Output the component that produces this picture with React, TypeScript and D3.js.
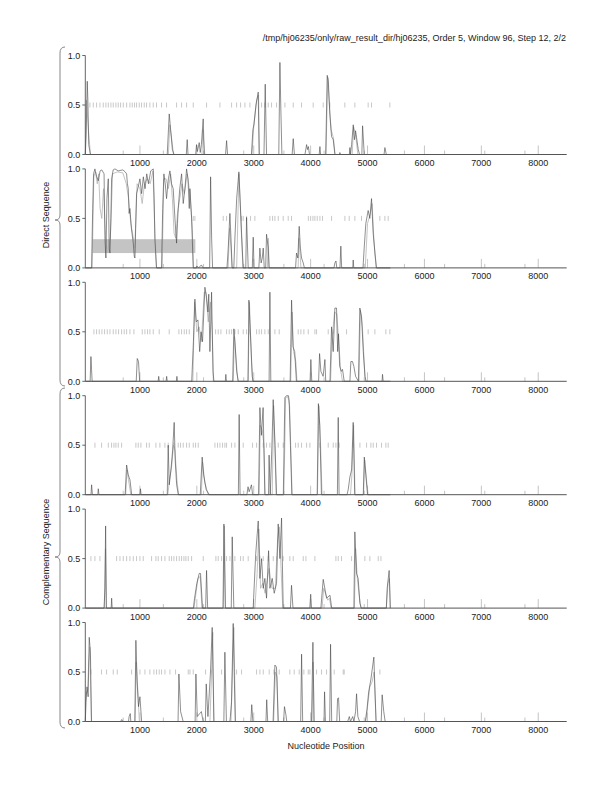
import React from "react";
import * as d3 from "d3";

const TITLE = "/tmp/hj06235/only/raw_result_dir/hj06235, Order 5, Window 96, Step 12, 2/2";
const X_LABEL = "Nucleotide Position";
const GROUP_LABELS = ["Direct Sequence", "Complementary Sequence"];
const X_DOMAIN: [number, number] = [40, 8500];
const X_TICKS = [1000, 2000, 3000, 4000, 5000, 6000, 7000, 8000];
const MINOR_TICKS = [706, 1412, 2118, 2824, 3530, 4236, 4942, 5648, 6354, 7060, 7766];
const Y_TICKS = [0, 0.5, 1];
const HIGHLIGHT = { panel: 1, x0: 165, x1: 1974, y0: 0.15, y1: 0.29 };

type P = [number, number];

const p1Dark: P[] = [[40,0],[55,0.2],[74,0.74],[85,0.55],[100,0.1],[130,0],[1480,0],[1515,0.41],[1540,0.25],[1570,0.05],[1600,0],[1815,0],[1831,0.15],[1845,0],[1980,0],[1995,0.1],[2010,0.03],[2042,0.12],[2060,0.02],[2080,0.1],[2112,0.36],[2130,0],[2505,0],[2523,0.14],[2540,0],[2960,0],[2985,0.25],[3003,0.3],[3040,0.5],[3079,0.63],[3095,0],[3180,0],[3202,0.71],[3225,0],[3440,0],[3460,0.93],[3475,0.5],[3495,0],[3675,0],[3694,0.16],[3715,0],[3900,0],[3929,0.1],[3945,0.05],[3960,0.08],[3980,0],[4150,0],[4163,0.08],[4175,0],[4265,0],[4291,0.8],[4310,0.75],[4338,0.4],[4368,0.18],[4397,0.15],[4426,0],[4505,0],[4514,0.02],[4525,0],[4680,0],[4690,0.07],[4700,0],[4720,0.1],[4749,0.3],[4770,0.15],[4790,0.24],[4837,0.05],[4860,0],[4900,0],[4913,0.29],[4942,0],[5290,0],[5305,0.07],[5330,0],[5400,0]];
const p1Light: P[] = [[40,0],[60,0.55],[95,0.25],[130,0],[1500,0],[1525,0.3],[1560,0.15],[1590,0],[2090,0],[2105,0.25],[2125,0.1],[2140,0],[2970,0],[3000,0.28],[3050,0.55],[3085,0.6],[3100,0],[4270,0],[4300,0.78],[4330,0.5],[4360,0.25],[4400,0.17],[4430,0],[4730,0],[4755,0.28],[4790,0.2],[4830,0],[5400,0]];
const p1Stops = [121,180,238,297,355,402,444,490,531,578,619,660,707,766,824,865,906,941,988,1029,1076,1117,1175,1234,1292,1380,1468,1644,1732,1820,1937,2171,2406,2611,2699,2769,2845,2933,3138,3196,3255,3313,3401,3548,3694,3840,4045,4221,4338,4601,4777,5011,5070,5392];

const p2Dark: P[] = [[40,0],[150,0],[170,0.6],[185,0.95],[209,1.0],[240,0.92],[268,0.88],[300,0.98],[330,0.99],[370,0.95],[385,0.3],[402,0.1],[420,0.7],[444,0.9],[460,0.2],[473,0.15],[490,0.5],[502,0.9],[530,0.99],[561,1.0],[620,0.98],[700,0.99],[740,0.97],[766,0.95],[780,0.85],[795,0.8],[810,0.55],[824,0.6],[850,0.4],[883,0.25],[900,0.12],[912,0.1],[925,0.4],[941,0.75],[970,0.82],[1000,0.9],[1030,0.75],[1060,0.92],[1090,0.8],[1120,0.95],[1150,0.85],[1190,0.98],[1234,1.0],[1250,0.7],[1263,0.3],[1292,0],[1380,0],[1400,0.6],[1421,0.95],[1445,0.85],[1468,0.7],[1500,0.9],[1527,0.98],[1555,0.85],[1585,0.8],[1615,0.5],[1644,0.25],[1660,0.45],[1673,0.6],[1700,0.8],[1732,0.95],[1761,0.65],[1791,0.8],[1820,1.0],[1845,0.9],[1867,0.6],[1879,0.8],[1908,0.5],[1937,0],[1990,0],[2000,0.02],[2030,0],[2080,0.03],[2110,0],[2225,0],[2242,0.92],[2260,0.3],[2277,0],[2530,0],[2552,0.2],[2581,0.55],[2600,0.3],[2620,0],[2650,0],[2669,0.3],[2700,0.7],[2739,0.97],[2760,0.7],[2786,0.35],[2815,0],[2860,0],[2874,0.51],[2903,0],[2975,0],[2991,0.31],[3005,0],[3090,0],[3108,0.2],[3130,0.05],[3150,0.1],[3167,0.2],[3185,0],[3210,0],[3225,0.34],[3255,0.2],[3270,0],[3735,0],[3752,0.15],[3775,0.1],[3799,0.42],[3820,0.2],[3840,0.1],[3870,0.05],[3890,0],[4410,0],[4426,0.05],[4445,0.07],[4460,0],[4515,0],[4531,0.22],[4545,0],[4740,0],[4748,0.08],[4758,0],[4920,0],[4941,0.2],[4970,0.45],[5011,0.58],[5040,0.5],[5070,0.7],[5099,0.35],[5130,0.15],[5158,0],[5400,0]];
const p2Light: P[] = [[40,0],[160,0],[190,0.92],[220,0.97],[250,0.85],[275,0.95],[300,0.6],[330,0.5],[360,0.8],[400,0.25],[440,0.15],[480,0.3],[520,0.95],[600,0.97],[700,0.96],[760,0.85],[800,0.7],[840,0.45],[870,0.35],[910,0.2],[950,0.85],[1000,0.8],[1040,0.65],[1080,0.85],[1130,0.9],[1180,0.85],[1230,0.98],[1270,0.2],[1290,0],[1390,0],[1420,0.9],[1460,0.9],[1500,0.8],[1540,0.95],[1570,0.7],[1600,0.35],[1630,0.3],[1660,0.55],[1700,0.7],[1740,0.85],[1780,0.75],[1830,0.95],[1880,0.75],[1920,0.4],[1940,0],[2550,0],[2575,0.4],[2600,0.2],[2620,0],[2700,0],[2740,0.95],[2780,0.4],[2810,0],[3240,0],[3255,0.3],[3270,0],[3780,0],[3795,0.3],[3830,0],[4960,0],[5000,0.45],[5050,0.55],[5080,0.65],[5110,0.3],[5150,0],[5400,0]];
const p2Stops = [1937,1966,2464,2523,2786,2815,2874,2944,3020,3284,3331,3372,3431,3518,3606,3664,3960,4000,4040,4075,4116,4163,4209,4368,4602,4678,4777,4894,5216,5305,5363];

const p3Dark: P[] = [[40,0],[125,0],[139,0.25],[150,0.12],[160,0],[935,0],[953,0.23],[975,0.2],[995,0],[1320,0],[1330,0.05],[1340,0],[1460,0],[1470,0.05],[1480,0],[1640,0],[1650,0.05],[1660,0],[1910,0],[1940,0.4],[1966,0.83],[1990,0.6],[2020,0.62],[2050,0.3],[2075,0.5],[2100,0.4],[2142,0.95],[2170,0.85],[2195,0.7],[2210,0.88],[2230,0.3],[2259,0.9],[2285,0.1],[2300,0],[2500,0],[2510,0.07],[2520,0],[2630,0],[2651,0.53],[2670,0.4],[2700,0.1],[2730,0],[2900,0],[2915,0.82],[2940,0.5],[2975,0.05],[2990,0],[3270,0],[3284,0.9],[3300,0],[3640,0],[3665,0.82],[3690,0.35],[3720,0.3],[3750,0],[3990,0],[4004,0.22],[4020,0],[4140,0],[4157,0.28],[4180,0.1],[4220,0.05],[4251,0.22],[4265,0],[4340,0],[4368,0.55],[4397,0.3],[4426,0.74],[4455,0.74],[4475,0.3],[4490,0.48],[4510,0.15],[4540,0.1],[4560,0.12],[4590,0],[4690,0],[4707,0.2],[4735,0.2],[4760,0.15],[4790,0.05],[4840,0],[4865,0.74],[4895,0.65],[4925,0.3],[4955,0.05],[4975,0],[5255,0],[5263,0.07],[5275,0],[5400,0]];
const p3Light: P[] = [[40,0],[1930,0],[1960,0.8],[2000,0.5],[2040,0.55],[2080,0.4],[2130,0.9],[2160,0.9],[2200,0.6],[2240,0.8],[2270,0.5],[2290,0],[2640,0],[2660,0.45],[2700,0.15],[2720,0],[2900,0],[2925,0.8],[2960,0.2],[2980,0],[3650,0],[3675,0.7],[3700,0.3],[3740,0.2],[3760,0],[4350,0],[4380,0.45],[4420,0.7],[4460,0.68],[4500,0.35],[4530,0.1],[4560,0],[4850,0],[4875,0.72],[4910,0.55],[4940,0.2],[4960,0],[5400,0]];
const p3Stops = [192,238,285,332,379,426,473,531,578,625,678,724,766,824,894,1041,1088,1134,1175,1234,1339,1515,1685,1732,1779,1820,1867,2330,2376,2423,2523,2570,2611,2669,2728,2815,2874,2933,3050,3096,3138,3196,3255,3372,3448,3782,3829,3881,3958,4075,4104,4309,4397,4631,5011,5129,5322,5392];

const p4Dark: P[] = [[40,0],[140,0],[151,0.1],[165,0],[260,0],[268,0.06],[280,0],[740,0],[766,0.3],[795,0.2],[825,0.15],[855,0],[1000,0],[1010,0.06],[1020,0],[1480,0],[1497,0.5],[1515,0.1],[1545,0.25],[1575,0.45],[1602,0.73],[1620,0.35],[1645,0.1],[1675,0],[2060,0],[2094,0.38],[2120,0.2],[2165,0.05],[2220,0],[2730,0],[2744,0.81],[2760,0],[2880,0],[2900,0.08],[2920,0.03],[2960,0.1],[2980,0],[3085,0],[3108,0.88],[3135,0.6],[3165,0.88],[3195,0],[3260,0],[3270,0.4],[3290,0],[3320,0.5],[3342,0.96],[3375,0.5],[3400,0],[3520,0],[3547,0.98],[3575,1.0],[3610,1.0],[3623,0.95],[3645,0.5],[3670,0],[4115,0],[4136,0.92],[4160,0.7],[4190,0],[4470,0],[4485,0.78],[4500,0],[4640,0],[4660,0.05],[4690,0.18],[4720,0.25],[4748,0.73],[4775,0],[4925,0],[4943,0.38],[4970,0.2],[5000,0],[5400,0]];
const p4Light: P[] = [[40,0],[750,0],[775,0.25],[800,0.15],[840,0],[1490,0],[1520,0.15],[1560,0.3],[1590,0.5],[1615,0.45],[1650,0.15],[1680,0],[2080,0],[2100,0.33],[2140,0.12],[2200,0],[3095,0],[3115,0.7],[3150,0.65],[3180,0.5],[3200,0],[3325,0],[3350,0.9],[3380,0.3],[3395,0],[3530,0],[3560,0.98],[3600,0.99],[3630,0.9],[3660,0.3],[3675,0],[4120,0],[4145,0.9],[4175,0.5],[4200,0],[4700,0],[4725,0.2],[4755,0.7],[4780,0],[4930,0],[4950,0.35],[4990,0.1],[5010,0],[5400,0]];
const p4Stops = [209,326,444,502,543,578,619,678,929,970,1017,1117,1164,1281,1351,1439,1497,1597,1673,1714,1761,1820,1867,1937,1978,2025,2318,2364,2406,2452,2493,2523,2611,2669,2815,2979,3050,3167,3225,3284,3431,3518,3735,3782,3840,3929,3987,4163,4309,4397,4444,4502,4748,4866,4983,5059,5100,5158,5246,5322,5363];

const p5Dark: P[] = [[40,0],[370,0],[385,0.2],[397,0.83],[410,0],[495,0],[503,0.1],[512,0],[1940,0],[1960,0.1],[2000,0.25],[2042,0.35],[2065,0.35],[2100,0],[2155,0],[2171,0.38],[2190,0],[2460,0],[2476,0.85],[2500,0],[2605,0],[2622,0.72],[2650,0],[2990,0],[3035,0.55],[3079,0.88],[3108,0.3],[3138,0.5],[3167,0.2],[3196,0.3],[3225,0.1],[3261,0.58],[3284,0.2],[3325,0.3],[3360,0.15],[3401,0.25],[3430,0.85],[3460,0.5],[3489,0.91],[3518,0],[3645,0],[3664,0.23],[3690,0],[3985,0],[4001,0.14],[4015,0],[4180,0],[4221,0.29],[4280,0.1],[4340,0.13],[4370,0],[4760,0],[4777,0.77],[4806,0.35],[4835,0.3],[4865,0.05],[4890,0],[5330,0],[5345,0.2],[5380,0.38],[5400,0]];
const p5Light: P[] = [[40,0],[375,0],[395,0.6],[410,0],[1950,0],[2020,0.3],[2060,0.32],[2090,0],[2465,0],[2485,0.83],[2505,0],[3020,0],[3060,0.35],[3090,0.8],[3120,0.2],[3160,0.25],[3200,0.15],[3270,0.4],[3320,0.2],[3380,0.2],[3420,0.7],[3450,0.82],[3480,0.4],[3510,0],[4200,0],[4230,0.2],[4300,0.08],[4330,0.1],[4360,0],[4770,0],[4790,0.6],[4820,0.3],[4860,0.1],[4885,0],[5330,0],[5360,0.25],[5385,0.3],[5400,0]];
const p5Stops = [139,209,297,590,649,707,766,824,883,941,1000,1058,1205,1281,1322,1380,1439,1515,1556,1597,1644,1691,1732,1773,1808,1849,1908,2113,2335,2376,2435,2523,2581,2669,2769,2815,2903,3050,3108,3167,3255,3343,3401,3518,3635,3694,3870,3917,4075,4444,4485,4543,4719,4953,5041,5188,5235];

const p6Dark: P[] = [[40,0],[50,0.2],[70,0.35],[90,0.25],[109,0.85],[130,0.7],[150,0],[660,0],[680,0.02],[700,0],[800,0],[810,0.05],[830,0.08],[840,0],[910,0],[929,0.82],[950,0.4],[975,0.15],[1000,0.25],[1030,0],[1670,0],[1685,0.48],[1715,0.1],[1760,0],[1970,0],[1984,0.48],[2008,0.05],[2050,0.08],[2080,0.1],[2110,0],[2150,0],[2165,0.38],[2195,0.05],[2240,0.5],[2270,0.95],[2300,0],[2475,0],[2493,0.7],[2520,0],[2580,0],[2590,0.05],[2610,0.2],[2639,0.99],[2675,0],[2950,0],[2965,0.17],[2985,0],[3215,0],[3228,0.22],[3245,0],[3340,0],[3372,0.57],[3400,0.55],[3430,0],[3525,0],[3540,0.15],[3565,0.07],[3580,0],[3825,0],[3841,0.68],[3860,0],[4015,0],[4040,0.8],[4060,0],[4235,0],[4245,0.3],[4260,0],[4335,0],[4350,0.78],[4370,0],[4460,0],[4473,0.23],[4490,0.24],[4510,0],[4650,0],[4680,0.05],[4700,0],[4740,0.05],[4760,0],[4790,0.1],[4807,0.28],[4830,0.05],[4860,0],[4960,0],[4990,0.12],[5020,0.3],[5060,0.43],[5111,0.65],[5150,0],[5240,0],[5257,0.27],[5285,0.1],[5310,0],[5400,0]];
const p6Light: P[] = [[40,0],[60,0.3],[80,0.3],[100,0.6],[120,0.75],[145,0],[915,0],[935,0.6],[960,0.35],[990,0],[2230,0],[2255,0.4],[2280,0.9],[2300,0],[2600,0],[2625,0.5],[2650,0.95],[2680,0],[3350,0],[3380,0.5],[3410,0.45],[3430,0],[4025,0],[4045,0.6],[4060,0],[4970,0],[5000,0.15],[5040,0.35],[5080,0.4],[5115,0.5],[5150,0],[5400,0]];
const p6Stops = [139,326,414,531,602,854,1000,1088,1175,1246,1292,1339,1380,1439,1527,1626,1849,1879,1937,2154,2259,2435,2699,2786,3050,3108,3167,3272,3354,3448,3635,3711,3799,3881,3958,3987,4104,4192,4280,4414,4573,4590,5217];

const PANELS = [
  { dark: p1Dark, light: p1Light, stops: p1Stops },
  { dark: p2Dark, light: p2Light, stops: p2Stops },
  { dark: p3Dark, light: p3Light, stops: p3Stops },
  { dark: p4Dark, light: p4Light, stops: p4Stops },
  { dark: p5Dark, light: p5Light, stops: p5Stops },
  { dark: p6Dark, light: p6Light, stops: p6Stops },
];

const LEFT = 85.3;
const RIGHT = 566.7;
const TOP0 = 55.5;
const STEP = 113.4;
const PH = 99;
const FONT = "'Liberation Sans', Arial, sans-serif";

export default function App() {
  const x = d3.scaleLinear().domain(X_DOMAIN).range([LEFT, RIGHT]);
  const braces = [
    { top: 47, mid: 220, bot: 386, label: GROUP_LABELS[0] },
    { top: 388, mid: 557, bot: 728, label: GROUP_LABELS[1] },
  ];
  const bracePath = (t: number, m: number, b: number) => {
    const bx = 60;
    return `M65,${t} Q${bx},${t} ${bx},${t + 6} L${bx},${m - 5} Q${bx},${m} ${bx - 5},${m} Q${bx},${m} ${bx},${m + 5} L${bx},${b - 6} Q${bx},${b} 65,${b}`;
  };
  return (
    <svg width={612} height={792} style={{ position: "absolute", left: 0, top: 0, background: "#fff" }} fontFamily={FONT}>
      <rect x={0} y={0} width={612} height={792} fill="#fff" />
      <text x={566} y={41} fontSize={9} textAnchor="end" fill="#222">{TITLE}</text>
      {PANELS.map((p, i) => {
        const top = TOP0 + i * STEP;
        const y = d3.scaleLinear().domain([0, 1]).range([top + PH, top]);
        const line = d3.line<P>().x((d) => x(d[0])).y((d) => y(d[1]));
        const base = y(0);
        return (
          <g key={i}>
            {HIGHLIGHT.panel === i && (
              <rect x={x(HIGHLIGHT.x0)} y={y(HIGHLIGHT.y1)} width={x(HIGHLIGHT.x1) - x(HIGHLIGHT.x0)} height={y(HIGHLIGHT.y0) - y(HIGHLIGHT.y1)} fill="#c4c4c4" />
            )}
            {p.stops.map((s, k) => (
              <line key={k} x1={x(s)} x2={x(s)} y1={y(0.5) - 2.5} y2={y(0.5) + 2.5} stroke="#b0b0b0" strokeWidth={0.7} />
            ))}
            {X_TICKS.map((t) => (
              <line key={"M" + t} x1={x(t)} x2={x(t)} y1={base} y2={base - 9} stroke="#aaaaaa" strokeWidth={0.7} />
            ))}
            {MINOR_TICKS.map((t) => (
              <line key={"m" + t} x1={x(t)} x2={x(t)} y1={base} y2={base - 4} stroke="#aaaaaa" strokeWidth={0.7} />
            ))}
            <path d={line(p.light) || ""} fill="none" stroke="#b4b4b4" strokeWidth={0.8} />
            <path d={line(p.dark) || ""} fill="none" stroke="#444" strokeWidth={0.6} />
            <line x1={LEFT} x2={RIGHT} y1={base} y2={base} stroke="#555" strokeWidth={1} />
            <line x1={LEFT} x2={LEFT} y1={y(0)} y2={y(1)} stroke="#555" strokeWidth={0.9} />
            {Y_TICKS.map((t) => (
              <g key={"y" + t}>
                <line x1={LEFT - 3} x2={LEFT} y1={y(t)} y2={y(t)} stroke="#555" strokeWidth={0.9} />
                <text x={LEFT - 5} y={y(t) + 3.2} fontSize={9} textAnchor="end" fill="#222">{t.toFixed(1)}</text>
              </g>
            ))}
            {X_TICKS.map((t) => (
              <text key={"l" + t} x={x(t)} y={base + 11.5} fontSize={9} textAnchor="middle" fill="#222">{t}</text>
            ))}
          </g>
        );
      })}
      {braces.map((b, i) => (
        <g key={i}>
          <path d={bracePath(b.top, b.mid, b.bot)} fill="none" stroke="#888" strokeWidth={1} />
          <text transform={`translate(49,${b.mid - 5}) rotate(-90)`} fontSize={9} textAnchor="middle" fill="#222">{b.label}</text>
        </g>
      ))}
      <text x={326} y={749} fontSize={9} textAnchor="middle" fill="#222">{X_LABEL}</text>
    </svg>
  );
}
